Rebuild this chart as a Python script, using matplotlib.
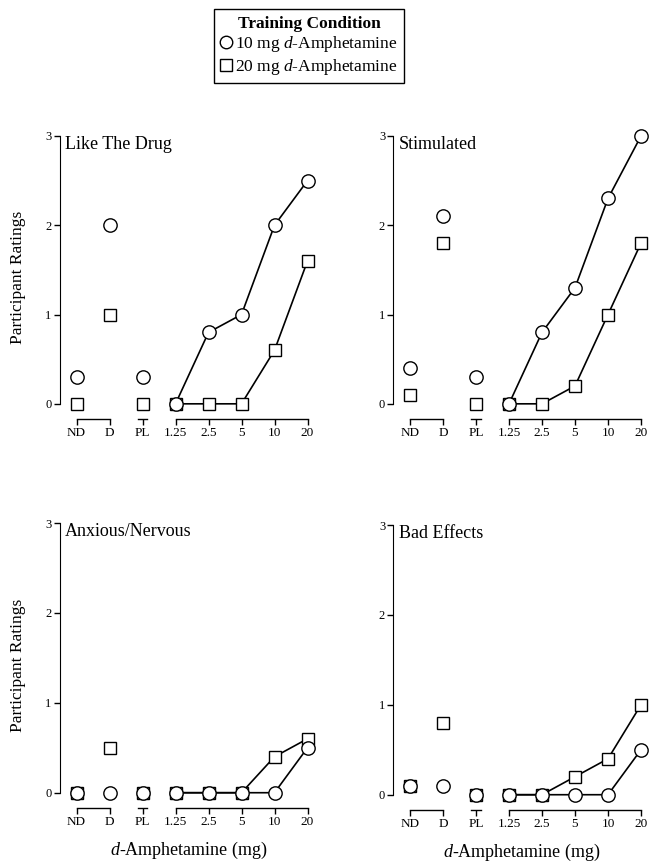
import numpy as np
import matplotlib
matplotlib.use("Agg")
import matplotlib.pyplot as plt
from matplotlib.lines import Line2D

plt.rcParams["font.family"] = ["Liberation Serif", "DejaVu Serif"]
plt.rcParams["mathtext.fontset"] = "custom"
plt.rcParams["mathtext.rm"] = "Liberation Serif"
plt.rcParams["mathtext.it"] = "Liberation Serif:italic"

CATEGORIES = ["ND", "D", "PL", "1.25", "2.5", "5", "10", "20"]
PANELS = ["Like The Drug", "Stimulated", "Anxious/Nervous", "Bad Effects"]

# ratings: ND, D, PL, then 1.25 .. 20 mg
LIKE_10 = [0.3, 2.0, 0.3, 0.0, 0.8, 1.0, 2.0, 2.5]
LIKE_20 = [0.0, 1.0, 0.0, 0.0, 0.0, 0.0, 0.6, 1.6]
STIM_10 = [0.4, 2.1, 0.3, 0.0, 0.8, 1.3, 2.3, 3.0]
STIM_20 = [0.1, 1.8, 0.0, 0.0, 0.0, 0.2, 1.0, 1.8]
ANX_10 = [0.0, 0.0, 0.0, 0.0, 0.0, 0.0, 0.0, 0.5]
ANX_20 = [0.0, 0.5, 0.0, 0.0, 0.0, 0.0, 0.4, 0.6]
BAD_10 = [0.1, 0.1, 0.0, 0.0, 0.0, 0.0, 0.0, 0.5]
BAD_20 = [0.1, 0.8, 0.0, 0.0, 0.0, 0.2, 0.4, 1.0]

SERIES = [(LIKE_10, LIKE_20), (STIM_10, STIM_20), (ANX_10, ANX_20), (BAD_10, BAD_20)]

W, H = 649, 861
fig = plt.figure(figsize=(W / 100, H / 100), dpi=100)

YB = -0.17   # level of the x bracket lines
# (left spine px, y=3 px, bracket px, xlabel pad)
boxes = [(60, 136, 419, 0), (393.5, 136, 419, 0), (60, 523, 808, 8), (393.5, 525, 810, 8)]
unit_w = 33.0
pos = np.arange(len(CATEGORIES))

for i, (title, (s10, s20), (lx, ty, by, xpad)) in enumerate(zip(PANELS, SERIES, boxes)):
    ax = fig.add_axes([lx / W, 1 - by / H, 7.8 * unit_w / W, (by - ty) / H])
    ax.set_xlim(-0.5, 7.3); ax.set_ylim(YB, 3.0)
    s10 = np.array(s10); s20 = np.array(s20)
    mk = dict(mfc="white", mec="black", mew=1.0, color="black", lw=1.2, clip_on=False)
    # isolated control points
    ax.plot(pos[:3], s20[:3], "s", ms=8.8, zorder=3, **mk)
    ax.plot(pos[:3], s10[:3], "o", ms=9.6, zorder=4, **mk)
    # dose-response
    ax.plot(pos[3:], s20[3:], "s-", ms=8.8, zorder=3, **mk)
    ax.plot(pos[3:], s10[3:], "o-", ms=9.6, zorder=4, **mk)

    for sp in ("top", "right", "bottom"):
        ax.spines[sp].set_visible(False)
    ax.spines["left"].set_bounds(0, 3)
    ax.set_yticks([0, 1, 2, 3])
    ax.tick_params(axis="y", direction="out", length=4, width=1, labelsize=9, pad=2)
    ax.set_xticks(pos, CATEGORIES)
    ax.tick_params(axis="x", direction="out", length=4, width=1, labelsize=9.5, pad=2)
    for a, b in [(0, 1), (1.85, 2.15), (3, 7)]:
        ax.plot([a, b], [YB, YB], "-", color="black", lw=1, clip_on=False)

    ax.text(0.02, 1.0, title, transform=ax.transAxes, fontsize=13, va="top", ha="left")
    if i % 2 == 0:
        ax.set_ylabel("Participant Ratings", fontsize=12.5, labelpad=14)
    if i >= 2:
        ax.set_xlabel(r"$\it{d}$-Amphetamine (mg)", fontsize=13, labelpad=xpad)

handles = [
    Line2D([], [], marker="o", ls="none", mfc="white", mec="black", ms=9),
    Line2D([], [], marker="s", ls="none", mfc="white", mec="black", ms=9),
]
labels = [r"10 mg $\it{d}$-Amphetamine", r"20 mg $\it{d}$-Amphetamine"]
leg = fig.legend(handles, labels, title="Training Condition", loc="upper center",
                 bbox_to_anchor=(309 / W, 1 - 9 / H), fontsize=12.5,
                 title_fontproperties={"weight": "bold", "size": 12.5},
                 fancybox=False, edgecolor="black", framealpha=1,
                 handlelength=0.6, handletextpad=0.2, labelspacing=0.15,
                 borderpad=0.38, borderaxespad=0)
leg.get_frame().set_linewidth(1.0)

fig.savefig("out.png", dpi=100)
